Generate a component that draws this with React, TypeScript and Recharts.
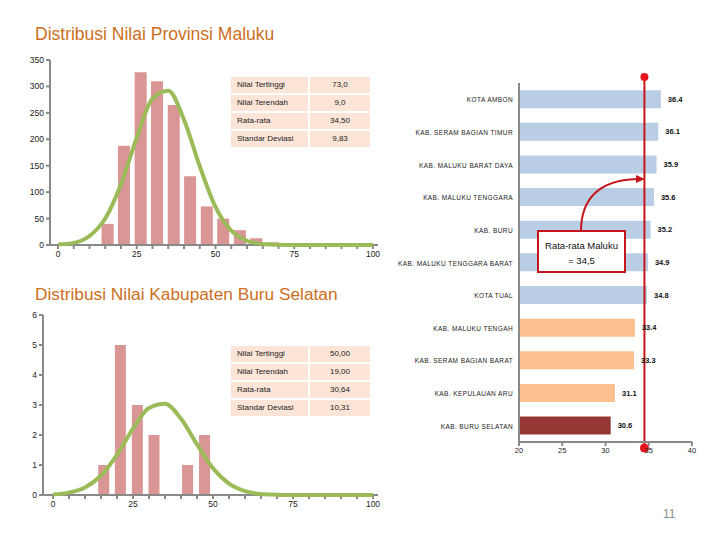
import React from 'react';
import {
  ComposedChart,
  BarChart,
  Bar,
  Line,
  XAxis,
  YAxis,
  Cell,
  LabelList,
  ReferenceLine
} from 'recharts';

// histogram bins (shared by both distributions)
const binCenters = [15.8, 21, 26.3, 31.5, 36.8, 42, 47.3, 52.5, 57.8, 63, 68.3];
const malukuCounts = [40, 188, 327, 310, 265, 130, 73, 50, 28, 13, 5];
const buruSelatanCounts = [1, 5, 3, 2, 0, 1, 2, 0, 0, 0, 0];

// normal curves
const curveX = [0, 5, 10, 15, 20, 25, 30, 35, 40, 45, 50, 55, 60, 65, 70, 75, 80, 85, 90, 95, 100];
const malukuCurve = [1, 4, 17, 50, 115, 203, 277, 292, 237, 149, 72, 27, 8, 2, 0.4, 0, 0, 0, 0, 0, 0];
const buruSelatanCurve = [0.02, 0.08, 0.25, 0.65, 1.34, 2.21, 2.9, 3.04, 2.54, 1.69, 0.89, 0.38, 0.13, 0.03, 0.01, 0, 0, 0, 0, 0, 0];

const distTicksX = [0, 5, 10, 15, 20, 25, 30, 35, 40, 45, 50, 55, 60, 65, 70, 75, 80, 85, 90, 95, 100];
const malukuTicksY = [0, 50, 100, 150, 200, 250, 300, 350];
const buruTicksY = [0, 1, 2, 3, 4, 5, 6];

const malukuStats = [
  ['Nilai Tertinggi', '73,0'],
  ['Nilai Terendah', '9,0'],
  ['Rata-rata', '34,50'],
  ['Standar Deviasi', '9,83']
];
const buruStats = [
  ['Nilai Tertinggi', '50,00'],
  ['Nilai Terendah', '19,00'],
  ['Rata-rata', '30,64'],
  ['Standar Deviasi', '10,31']
];

// district averages
const districts = [
  'KOTA AMBON',
  'KAB. SERAM BAGIAN TIMUR',
  'KAB. MALUKU BARAT DAYA',
  'KAB. MALUKU TENGGARA',
  'KAB. BURU',
  'KAB. MALUKU TENGGARA BARAT',
  'KOTA TUAL',
  'KAB. MALUKU TENGAH',
  'KAB. SERAM BAGIAN BARAT',
  'KAB. KEPULAUAN ARU',
  'KAB. BURU SELATAN'
];
const districtScores = [36.4, 36.1, 35.9, 35.6, 35.2, 34.9, 34.8, 33.4, 33.3, 31.1, 30.6];
const districtTicks = [20, 25, 30, 35, 40];
const provinceMean = 34.5;

const AXIS = '#898989';
const PINK = '#D99694';
const GREEN = '#9BBB59';
const RED = '#C4161C';

const binRows = (counts: number[]) => binCenters.map((x, i) => ({ x, count: counts[i] }));
const curveRows = (curve: number[]) => curveX.map((x, i) => ({ x, curve: curve[i] }));

const districtData = districts.map((name, i) => ({ name, score: districtScores[i] }));
const barColor = (v: number, i: number) =>
  i === districts.length - 1 ? '#953735' : v >= provinceMean ? '#B9CDE5' : '#FAC090';

const StatsTable = ({ rows, left, top }: { rows: string[][]; left: number; top: number }) => (
  <div style={{ position: 'absolute', left, top }}>
    {rows.map(([k, v]) => (
      <div key={k} style={{ display: 'flex', marginBottom: 2 }}>
        <div style={{ width: 77, height: 16, lineHeight: '16px', background: '#FCE4D6', fontSize: 8, paddingLeft: 6, boxSizing: 'border-box', color: '#222' }}>{k}</div>
        <div style={{ width: 60, height: 16, lineHeight: '16px', background: '#FCE4D6', fontSize: 8, marginLeft: 2, textAlign: 'center', color: '#222' }}>{v}</div>
      </div>
    ))}
  </div>
);

const Title = ({ text, left, top, size }: { text: string; left: number; top: number; size: number }) => (
  <div style={{ position: 'absolute', left, top, fontSize: size, lineHeight: '20px', color: '#CC6F22', whiteSpace: 'nowrap' }}>{text}</div>
);

type DistProps = {
  bins: any[];
  curve: any[];
  ticksY: number[];
  left: number;
  top: number;
  height: number;
  yWidth: number;
  padLeft: number;
  barSize: number;
};

// bars + axes underneath, curve drawn in an identical overlay chart on top
const DistChart = (p: DistProps) => {
  const margin = { top: 10, right: 10, bottom: 5, left: 8 };
  const yMax = p.ticksY[p.ticksY.length - 1];
  const axes = (visible: boolean) => [
    <XAxis
      key="x"
      dataKey="x"
      type="number"
      domain={[0, 100]}
      ticks={distTicksX}
      interval={0}
      height={30}
      padding={{ left: p.padLeft, right: 5 }}
      tickFormatter={(v) => (v % 25 === 0 ? `${v}` : '')}
      stroke={visible ? AXIS : 'none'}
      strokeWidth={2}
      tickSize={4}
      tickLine={visible}
      tick={visible ? { fontSize: 8.5, fill: '#222' } : false}
    />,
    <YAxis
      key="y"
      type="number"
      domain={[0, yMax]}
      ticks={p.ticksY}
      width={p.yWidth}
      stroke={visible ? AXIS : 'none'}
      strokeWidth={2}
      tickSize={4}
      tickLine={visible}
      tick={visible ? { fontSize: 8.5, fill: '#222' } : false}
    />
  ];
  return (
    <>
      <div style={{ position: 'absolute', left: p.left, top: p.top }}>
        <ComposedChart width={388} height={p.height} data={p.bins} margin={margin}>
          {axes(true)}
          <Bar dataKey="count" fill={PINK} barSize={p.barSize} isAnimationActive={false} />
        </ComposedChart>
      </div>
      <div style={{ position: 'absolute', left: p.left, top: p.top }}>
        <ComposedChart width={388} height={p.height} data={p.curve} margin={margin}>
          {axes(false)}
          <Line
            dataKey="curve"
            type="monotone"
            stroke={GREEN}
            strokeWidth={4}
            dot={false}
            isAnimationActive={false}
          />
        </ComposedChart>
      </div>
    </>
  );
};

const MeanLine = (props: any) => {
  const top = Math.min(props.y1, props.y2) - 6;
  const bottom = Math.max(props.y1, props.y2) + 6;
  return (
    <g>
      <line x1={props.x1} y1={top} x2={props.x2} y2={bottom} stroke={RED} strokeWidth={2} />
      <circle cx={props.x1} cy={top} r={4} fill="#E8141C" />
      <circle cx={props.x1} cy={bottom} r={4.5} fill="#E8141C" />
    </g>
  );
};

const DistrictTick = ({ x, y, payload }: any) => (
  <text x={x} y={y} dy={3} textAnchor="end" fontSize={6.5} letterSpacing={0.4} fill="#222">
    {payload.value}
  </text>
);

export default function App() {
  return (
    <div
      style={{
        position: 'absolute',
        left: 0,
        top: 0,
        width: 720,
        height: 540,
        background: '#fff',
        overflow: 'hidden',
        fontFamily: '"Liberation Sans", Arial, sans-serif'
      }}
    >
      <Title text="Distribusi Nilai Provinsi Maluku" left={35} top={24} size={17.5} />
      <DistChart bins={binRows(malukuCounts)} curve={curveRows(malukuCurve)} ticksY={malukuTicksY} left={0} top={50} height={230} yWidth={42} padLeft={8} barSize={12} />
      <StatsTable rows={malukuStats} left={231} top={77} />

      <Title text="Distribusi Nilai Kabupaten Buru Selatan" left={35} top={284} size={17.3} />
      <DistChart bins={binRows(buruSelatanCounts)} curve={curveRows(buruSelatanCurve)} ticksY={buruTicksY} left={0} top={305} height={225} yWidth={35} padLeft={10} barSize={11} />
      <StatsTable rows={buruStats} left={231} top={346} />

      <div style={{ position: 'absolute', left: 385, top: 73 }}>
        <BarChart
          width={327}
          height={404}
          data={districtData}
          layout="vertical"
          margin={{ top: 10, right: 20, bottom: 5, left: 0 }}
          barCategoryGap="22%"
        >
          <XAxis
            type="number"
            domain={[20, 40]}
            ticks={districtTicks}
            height={30}
            stroke={AXIS}
            strokeWidth={2}
            tickSize={4}
            tick={{ fontSize: 7.5, fill: '#222' }}
          />
          <YAxis
            type="category"
            dataKey="name"
            width={134}
            stroke={AXIS}
            strokeWidth={2}
            tickLine={false}
            tickSize={0}
            tickMargin={6}
            interval={0}
            tick={<DistrictTick />}
          />
          <Bar dataKey="score" isAnimationActive={false}>
            {districtData.map((d, i) => (
              <Cell key={d.name} fill={barColor(d.score, i)} />
            ))}
            <LabelList
              dataKey="score"
              position="right"
              offset={7}
              formatter={(v: any) => Number(v).toFixed(1)}
              style={{ fontSize: 7.5, fontWeight: 700, fill: '#111' }}
            />
          </Bar>
          <ReferenceLine x={provinceMean} shape={MeanLine} ifOverflow="visible" />
        </BarChart>
      </div>

      <svg width={720} height={540} style={{ position: 'absolute', left: 0, top: 0, pointerEvents: 'none' }}>
        <path d="M581,231 C581,200 598,180 637,179" fill="none" stroke={RED} strokeWidth={2} />
        <polygon points="645,179 636,175 636,183" fill={RED} />
        <rect x={538} y={231} width={87} height={41} fill="#fff" stroke={RED} strokeWidth={2} />
        <text x={581.5} y={249} textAnchor="middle" fontSize={9.5} fill="#111">Rata-rata Maluku</text>
        <text x={581.5} y={264} textAnchor="middle" fontSize={9.5} fill="#111">= 34,5</text>
      </svg>

      <div style={{ position: 'absolute', left: 663, top: 507, fontSize: 12, color: '#8C8C8C' }}>11</div>
    </div>
  );
}
